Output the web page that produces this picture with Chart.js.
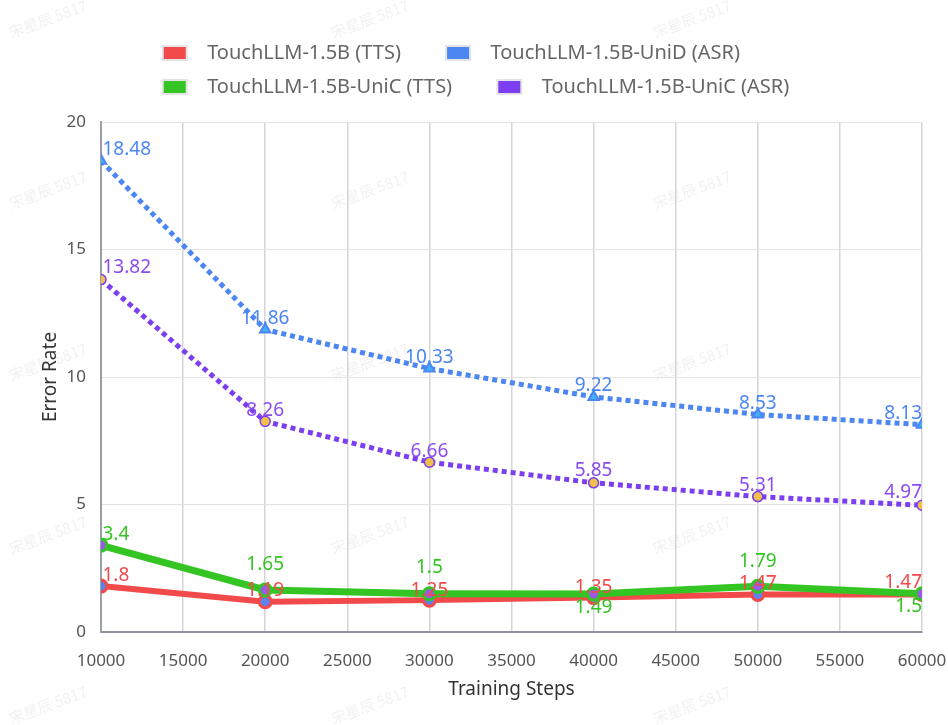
<!DOCTYPE html>
<html>
<head>
<meta charset="utf-8">
<script src="https://cdn.jsdelivr.net/npm/chart.js@4.4.1/dist/chart.umd.min.js"></script>
<style>
    html, body { margin: 0; padding: 0; background: #fff; }
    #wrap { width: 948px; height: 725px; position: relative; }
</style>
</head>
<body>
<div id="wrap"><canvas id="myChart"></canvas></div>
<script>
// values
const steps = [10000, 20000, 30000, 40000, 50000, 60000];
const tts_base = [1.8, 1.19, 1.25, 1.35, 1.47, 1.47];
const asr_unid = [18.48, 11.86, 10.33, 9.22, 8.53, 8.13];
const tts_unic = [3.4, 1.65, 1.5, 1.49, 1.79, 1.5];
const asr_unic = [13.82, 8.26, 6.66, 5.85, 5.31, 4.97];
const series_names = ['TouchLLM-1.5B (TTS)', 'TouchLLM-1.5B-UniD (ASR)', 'TouchLLM-1.5B-UniC (TTS)', 'TouchLLM-1.5B-UniC (ASR)'];
const x_ticks = [10000, 15000, 20000, 25000, 30000, 35000, 40000, 45000, 50000, 55000, 60000];
const y_ticks = [0, 5, 10, 15, 20];

const red = '#f24a4a';
const green = '#34c423';
const blue = '#4c86f2';
const purple = '#7b3ef0';
const FONT = '"Noto Sans", "Noto Sans CJK SC", sans-serif';

function pts(vals) {
    return steps.map((s, i) => ({ x: s, y: vals[i] }));
}

// faint repeated watermark text
const watermark = {
    id: 'watermark',
    beforeDraw(chart) {
        let ctx = chart.ctx;
        ctx.save();
        ctx.fillStyle = '#fff';
        ctx.fillRect(0, 0, chart.width, chart.height);
        ctx.font = '15px "Noto Sans CJK SC"';
        ctx.fillStyle = 'rgba(150,150,150,0.13)';
        ctx.textAlign = 'center';
        ctx.textBaseline = 'middle';
        [48, 370, 692].forEach(cx => {
            [19, 190, 362, 535, 705].forEach(cy => {
                ctx.save();
                ctx.translate(cx, cy);
                ctx.rotate(-20 * Math.PI / 180);
                ctx.fillText('宋星辰 5817', 0, 0);
                ctx.restore();
            });
        });
        ctx.restore();
    }
};

// value labels above / below each point
const pointLabels = {
    id: 'pointLabels',
    afterDatasetsDraw(chart) {
        let ctx = chart.ctx;
        let area = chart.chartArea;
        ctx.save();
        ctx.font = '19px ' + FONT;
        ctx.textBaseline = 'middle';
        ctx.textAlign = 'left';
        chart.data.datasets.forEach((ds, i) => {
            let meta = chart.getDatasetMeta(i);
            meta.data.forEach((pt, j) => {
                let txt = String(ds.data[j].y);
                let w = ctx.measureText(txt).width;
                let x = pt.x - w / 2;
                if (x < area.left + 1.5) x = area.left + 1.5;
                if (x + w > area.right) x = area.right - w;
                ctx.fillStyle = ds.labelColor;
                ctx.fillText(txt, x, pt.y + ds.labelDy[j]);
            });
        });
        ctx.restore();
    }
};

// two legend rows, block centred, rows left aligned
const legendLayout = {
    id: 'legendLayout',
    beforeInit(chart) {
        let lg = chart.legend;
        let fit = lg.fit;
        lg.fit = function () {
            this.maxWidth = Math.min(this.maxWidth, 720);
            fit.call(this);
            this.height = 93;
        };
    },
    afterLayout(chart) {
        let lg = chart.legend;
        let pad = lg.options.labels.padding;
        let widest = Math.max(...lg.lineWidths);
        lg.left = chart.width / 2 - pad / 2 - widest / 2 + 2;
    }
};

const ctx = document.getElementById('myChart');
const chart = new Chart(ctx, {
    type: 'line',
    data: {
        datasets: [
            {
                label: series_names[0],
                data: pts(tts_base),
                borderColor: red,
                backgroundColor: red,
                borderWidth: 6,
                pointRadius: 6,
                pointBorderWidth: 3,
                pointBackgroundColor: '#5b84f1',
                pointBorderColor: red,
                order: 4,
                labelColor: red,
                labelDy: [-11, -11, -10, -10, -11, -12]
            },
            {
                label: series_names[1],
                data: pts(asr_unid),
                borderColor: blue,
                backgroundColor: blue,
                borderWidth: 5,
                borderDash: [5, 4],
                pointStyle: 'triangle',
                pointRadius: 6,
                pointBorderWidth: 2,
                pointBackgroundColor: '#3fb1f3',
                pointBorderColor: blue,
                order: 2,
                labelColor: blue,
                labelDy: [-11, -11, -11, -11, -11, -11]
            },
            {
                label: series_names[2],
                data: pts(tts_unic),
                borderColor: green,
                backgroundColor: green,
                borderWidth: 7,
                pointRadius: 6,
                pointBorderWidth: 3,
                pointBackgroundColor: '#9a5ce6',
                pointBorderColor: green,
                order: 3,
                labelColor: green,
                labelDy: [-11, -25, -26, 14, -25, 13]
            },
            {
                label: series_names[3],
                data: pts(asr_unic),
                borderColor: purple,
                backgroundColor: purple,
                borderWidth: 5,
                borderDash: [5, 4],
                pointRadius: 5,
                pointBorderWidth: 1.5,
                pointBackgroundColor: '#f0c04c',
                pointBorderColor: purple,
                order: 1,
                labelColor: '#8a4cf0',
                labelDy: [-12, -11, -11, -12, -11, -13]
            }
        ]
    },
    options: {
        responsive: true,
        maintainAspectRatio: false,
        animation: false,
        events: [],
        layout: { padding: { top: 29, right: 5, bottom: 0, left: 0 } },
        scales: {
            x: {
                type: 'linear',
                min: 10000,
                max: 60000,
                afterBuildTicks: (scale) => { scale.ticks = x_ticks.map(v => ({ value: v })); },
                afterFit: (scale) => { scale.height = 93; scale.paddingRight = 26; },
                ticks: {
                    callback: (v) => String(v),
                    color: '#555',
                    padding: 19,
                    maxRotation: 0,
                    font: { family: FONT, size: 17 }
                },
                grid: { color: '#d3d5da', lineWidth: 1.5, drawTicks: false },
                border: { color: '#8e939b', width: 2 },
                title: {
                    display: true,
                    text: 'Training Steps',
                    color: '#333',
                    font: { family: FONT, size: 19 },
                    padding: { top: 0, bottom: 24 }
                }
            },
            y: {
                min: 0,
                max: 20,
                afterBuildTicks: (scale) => { scale.ticks = y_ticks.map(v => ({ value: v })); },
                afterFit: (scale) => { scale.width = 101; },
                ticks: {
                    color: '#555',
                    padding: 15,
                    font: { family: FONT, size: 17 }
                },
                grid: { color: '#e3e3e3', lineWidth: 1, drawTicks: false },
                border: { color: '#9aa0a8', width: 2 },
                title: {
                    display: true,
                    text: 'Error Rate',
                    color: '#333',
                    font: { family: FONT, size: 19 },
                    padding: { top: 39, bottom: 0 }
                }
            }
        },
        plugins: {
            legend: {
                position: 'top',
                align: 'start',
                labels: {
                    boxWidth: 24,
                    boxHeight: 14,
                    padding: 14,
                    color: '#666',
                    font: { family: FONT, size: 20 },
                    generateLabels: (c) => c.data.datasets.map((ds, i) => ({
                        text: '  ' + ds.label + (i % 2 === 0 ? '      ' : ''),
                        fillStyle: ds.borderColor,
                        strokeStyle: '#e4e4e4',
                        lineWidth: 2,
                        fontColor: '#666',
                        hidden: !c.isDatasetVisible(i),
                        datasetIndex: i
                    }))
                }
            },
            tooltip: { enabled: false }
        }
    },
    plugins: [watermark, pointLabels, legendLayout]
});
</script>
</body>
</html>
